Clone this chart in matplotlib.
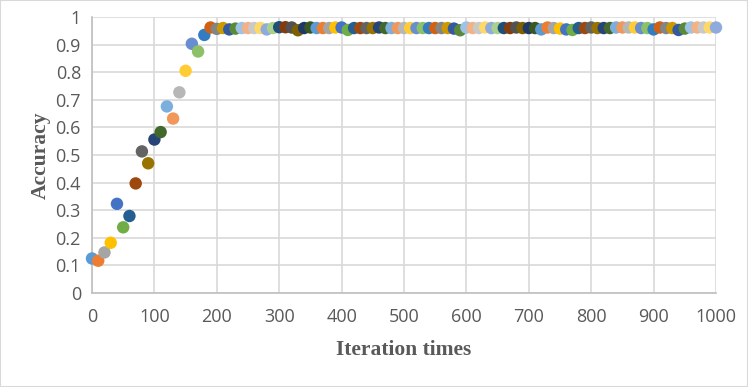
import matplotlib
matplotlib.use("Agg")
import matplotlib.pyplot as plt

# ============================================================
# DATA
# ============================================================

iterations = [
    0, 10, 20, 30, 40, 50, 60, 70, 80, 90,
    100, 110, 120, 130, 140, 150, 160, 170, 180, 190,
    200, 210, 220, 230, 240, 250, 260, 270, 280, 290,
    300, 310, 320, 330, 340, 350, 360, 370, 380, 390,
    400, 410, 420, 430, 440, 450, 460, 470, 480, 490,
    500, 510, 520, 530, 540, 550, 560, 570, 580, 590,
    600, 610, 620, 630, 640, 650, 660, 670, 680, 690,
    700, 710, 720, 730, 740, 750, 760, 770, 780, 790,
    800, 810, 820, 830, 840, 850, 860, 870, 880, 890,
    900, 910, 920, 930, 940, 950, 960, 970, 980, 990,
    1000,
]

accuracy = [
    0.125, 0.117, 0.147, 0.182, 0.323, 0.238, 0.279, 0.397, 0.513, 0.470,
    0.556, 0.583, 0.676, 0.632, 0.727, 0.805, 0.903, 0.875, 0.935, 0.962,
    0.957, 0.960, 0.955, 0.958, 0.960, 0.960, 0.960, 0.960, 0.955, 0.960,
    0.963, 0.963, 0.962, 0.952, 0.960, 0.962, 0.960, 0.960, 0.960, 0.962,
    0.962, 0.953, 0.960, 0.960, 0.960, 0.960, 0.962, 0.960, 0.960, 0.960,
    0.960, 0.960, 0.960, 0.960, 0.960, 0.960, 0.960, 0.960, 0.958, 0.952,
    0.962, 0.960, 0.960, 0.962, 0.960, 0.960, 0.960, 0.960, 0.962, 0.960,
    0.960, 0.960, 0.955, 0.962, 0.960, 0.958, 0.955, 0.953, 0.960, 0.960,
    0.962, 0.960, 0.960, 0.960, 0.962, 0.962, 0.962, 0.962, 0.960, 0.960,
    0.955, 0.962, 0.960, 0.960, 0.953, 0.958, 0.962, 0.962, 0.962, 0.962,
    0.962,
]

x_ticks = [0, 100, 200, 300, 400, 500, 600, 700, 800, 900, 1000]
y_ticks = [0, 0.1, 0.2, 0.3, 0.4, 0.5, 0.6, 0.7, 0.8, 0.9, 1]
y_tick_labels = ["0", "0.1", "0.2", "0.3", "0.4", "0.5", "0.6", "0.7", "0.8", "0.9", "1"]

# Excel 2013 series colour cycle (one series per point)
palette = [
    "#5B9BD5", "#ED7D31", "#A5A5A5", "#FFC000", "#4472C4", "#70AD47",
    "#255E91", "#9E480E", "#636363", "#997300", "#264478", "#43682B",
    "#7CAFDD", "#F1975A", "#B7B7B7", "#FFCD33", "#698ED0", "#8CC168",
    "#327DC2", "#D26012", "#848484", "#CC9A00", "#335AA1", "#5A8A39",
    "#9DC3E6", "#F4B183", "#C9C9C9", "#FFD966", "#8FAADC", "#A9D18E",
    "#1F4E79", "#843C0C", "#525252", "#7F6000", "#203864", "#385723",
]

# ============================================================
# PLOT
# ============================================================

fig = plt.figure(figsize=(7.48, 3.87), dpi=100)
ax = fig.add_axes([92 / 748, 1 - 293 / 387, 624 / 748, 276 / 387])

colors = [palette[i % len(palette)] for i in range(len(iterations))]
ax.scatter(iterations, accuracy, s=80, c=colors, linewidths=0, zorder=3, clip_on=False)

ax.set_xlim(0, 1000)
ax.set_ylim(0, 1)
ax.set_xticks(x_ticks)
ax.set_yticks(y_ticks)
ax.set_yticklabels(y_tick_labels)

ax.grid(True, color="#D9D9D9", linewidth=1.2, zorder=0)
ax.set_axisbelow(True)
for side in ["top", "right"]:
    ax.spines[side].set_visible(False)
for side in ["left", "bottom"]:
    ax.spines[side].set_color("#BFBFBF")
    ax.spines[side].set_linewidth(1.2)

ax.tick_params(axis="x", length=0, pad=11, labelsize=13, labelcolor="#595959")
ax.tick_params(axis="y", length=0, pad=8, labelsize=13, labelcolor="#595959")
for lbl in ax.get_xticklabels() + ax.get_yticklabels():
    lbl.set_family("Open Sans")

ax.set_xlabel("Iteration times", family="Liberation Serif", fontweight="bold",
              fontsize=15.5, color="#595959", labelpad=10)
ax.set_ylabel("Accuracy", family="Liberation Serif", fontweight="bold",
              fontsize=15.5, color="#595959", labelpad=3)

# light outer frame like the exported chart area
fig.patches.append(plt.Rectangle((0, 0), 1, 1, transform=fig.transFigure,
                                 fill=False, edgecolor="#D9D9D9", linewidth=1.5))

fig.savefig("out.png", dpi=100)
